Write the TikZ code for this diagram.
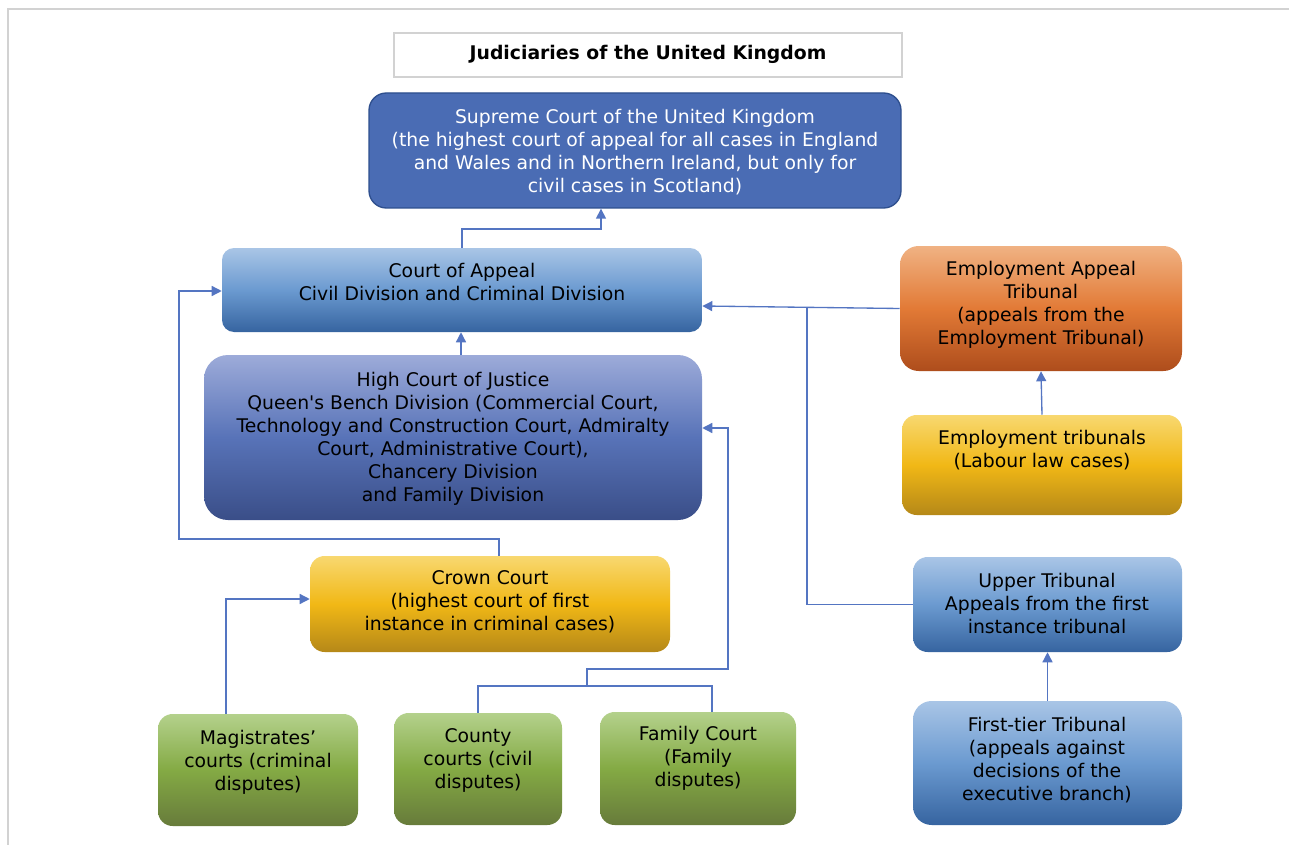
\documentclass[tikz,border=0pt]{standalone}
\usepackage{fontspec}
\setmainfont{DejaVu Sans}[Ligatures=TeXOff]
\usetikzlibrary{arrows.meta,fit}
\definecolor{framegray}{HTML}{D2D2D2}
\definecolor{lineblue}{HTML}{5475C2}
\definecolor{supfill}{HTML}{4A6CB4}
\definecolor{supdraw}{HTML}{2E4F8E}
\definecolor{lbT}{HTML}{A9C5E6}
\definecolor{lbM}{HTML}{6B9AD0}
\definecolor{lbB}{HTML}{3664A0}
\definecolor{hcT}{HTML}{9DABD9}
\definecolor{hcM}{HTML}{5873B8}
\definecolor{hcB}{HTML}{3A4E88}
\definecolor{yeT}{HTML}{F8D870}
\definecolor{yeM}{HTML}{F1B816}
\definecolor{yeB}{HTML}{B58818}
\definecolor{grT}{HTML}{B4D18C}
\definecolor{grM}{HTML}{84AA44}
\definecolor{grB}{HTML}{677B3B}
\definecolor{orT}{HTML}{F0B283}
\definecolor{orM}{HTML}{E27A36}
\definecolor{orB}{HTML}{AE4D1C}
\begin{document}
\begin{tikzpicture}[x=0.75pt,y=-0.75pt,
  box/.style={inner sep=0pt, draw=none},
  lightblue/.style={box, top color=lbT, bottom color=lbB, middle color=lbM},
  highblue/.style={box, top color=hcT, bottom color=hcB, middle color=hcM},
  yellowbox/.style={box, top color=yeT, bottom color=yeB, middle color=yeM},
  greenbox/.style={box, top color=grT, bottom color=grB, middle color=grM},
  orangebox/.style={box, top color=orT, bottom color=orB, middle color=orM},
  txt/.style={align=center, inner sep=0pt, font=\fontsize{14.1}{17.25}\selectfont},
  conn/.style={draw=lineblue, line width=1pt},
  arr/.style={-{Triangle[length=7.5pt,width=7.5pt]}}
]
\useasboundingbox (0,0) rectangle (1289,845);
\fill[white] (0,0) rectangle (1289,845);
\draw[framegray, line width=1.6pt] (1289,9) -- (8,9) -- (8,845);

% corner coordinates
\coordinate (t1) at (394,33);  \coordinate (t2) at (902,77);
\coordinate (s1) at (369,93);  \coordinate (s2) at (901,208);
\coordinate (a1) at (222,248); \coordinate (a2) at (702,332);
\coordinate (h1) at (204,355); \coordinate (h2) at (702,520);
\coordinate (c1) at (310,556); \coordinate (c2) at (670,652);
\coordinate (m1) at (158,714); \coordinate (m2) at (358,826);
\coordinate (y1) at (394,713); \coordinate (y2) at (562,825);
\coordinate (f1) at (600,712); \coordinate (f2) at (796,825);
\coordinate (e1) at (900,246); \coordinate (e2) at (1182,371);
\coordinate (r1) at (902,415); \coordinate (r2) at (1182,515);
\coordinate (u1) at (913,557); \coordinate (u2) at (1182,652);
\coordinate (p1) at (913,701); \coordinate (p2) at (1182,825);

% boxes
\node[box, draw=framegray, line width=0.9pt, fill=white, fit=(t1)(t2)] (title) {};
\node[box, fill=supfill, draw=supdraw, line width=1pt, rounded corners=13pt, fit=(s1)(s2)] (supreme) {};
\node[lightblue, rounded corners=9pt, fit=(a1)(a2)] (appeal) {};
\node[highblue, rounded corners=18pt, fit=(h1)(h2)] (high) {};
\node[yellowbox, rounded corners=11pt, fit=(c1)(c2)] (crown) {};
\node[greenbox, rounded corners=11pt, fit=(m1)(m2)] (mag) {};
\node[greenbox, rounded corners=11pt, fit=(y1)(y2)] (county) {};
\node[greenbox, rounded corners=11pt, fit=(f1)(f2)] (family) {};
\node[orangebox, rounded corners=14pt, fit=(e1)(e2)] (empappeal) {};
\node[yellowbox, rounded corners=11pt, fit=(r1)(r2)] (emptrib) {};
\node[lightblue, rounded corners=11pt, fit=(u1)(u2)] (upper) {};
\node[lightblue, rounded corners=14pt, fit=(p1)(p2)] (firsttier) {};

% texts
\node[txt, font=\fontsize{14.1}{17.25}\selectfont\bfseries] (titletxt) at (648,54) {Judiciaries of the United Kingdom};
\node[txt, text=white] (suptxt) at (635,152) {Supreme Court of the United Kingdom\\(the highest court of appeal for all cases in England\\and Wales and in Northern Ireland, but only for\\civil cases in Scotland)};
\node[txt] (appealtxt) at (462,282) {Court of Appeal\\Civil Division and Criminal Division};
\node[txt] (hightxt) at (453,439) {High Court of Justice\\Queen's Bench Division (Commercial Court,\\Technology and Construction Court, Admiralty\\Court, Administrative Court),\\Chancery Division\\and Family Division};
\node[txt] (crowntxt) at (490,602) {Crown Court\\(highest court of first\\instance in criminal cases)};
\node[txt] (magtxt) at (258,762) {Magistrates’\\courts (criminal\\disputes)};
\node[txt] (countytxt) at (478,760) {County\\courts (civil\\disputes)};
\node[txt] (familytxt) at (698,758) {Family Court\\(Family\\disputes)};
\node[txt] (empappealtxt) at (1041,305) {Employment Appeal\\Tribunal\\(appeals from the\\Employment Tribunal)};
\node[txt] (emptribtxt) at (1042,450) {Employment tribunals\\(Labour law cases)};
\node[txt] (uppertxt) at (1047,603) {Upper Tribunal\\Appeals from the first\\instance tribunal};
\node[txt] (firsttxt) at (1047,760) {First-tier Tribunal\\(appeals against\\decisions of the\\executive branch)};

% connectors
\draw[conn,arr] (appeal.north) |- (601,229) -- (601,0 |- supreme.south);
\draw[conn,arr] (461,0 |- high.north) -- (461,0 |- appeal.south);
\draw[conn,arr] (499,0 |- crown.north) -- (499,539) -- (179,539) -- (179,291) -- (appeal.west |- 0,291);
\draw[conn,arr] (226,0 |- mag.north) |- (crown.west |- 0,599);
\coordinate (cfjoin) at (587,686);
\draw[conn] (county.north) |- (712,686) -- (712,0 |- family.north);
\draw[conn,arr] (cfjoin) |- (728,669) |- (high.east |- 0,428);
\draw[conn,arr] (empappeal.west) -- (appeal.east |- 0,306);
\coordinate (upjoin) at (807,307);
\draw[conn] (upper.west) -| (upjoin);
\draw[conn,arr] (emptrib.north) -- (empappeal.south);
\draw[conn,arr] (firsttier.north) -- (upper.south);
\end{tikzpicture}
\end{document}
